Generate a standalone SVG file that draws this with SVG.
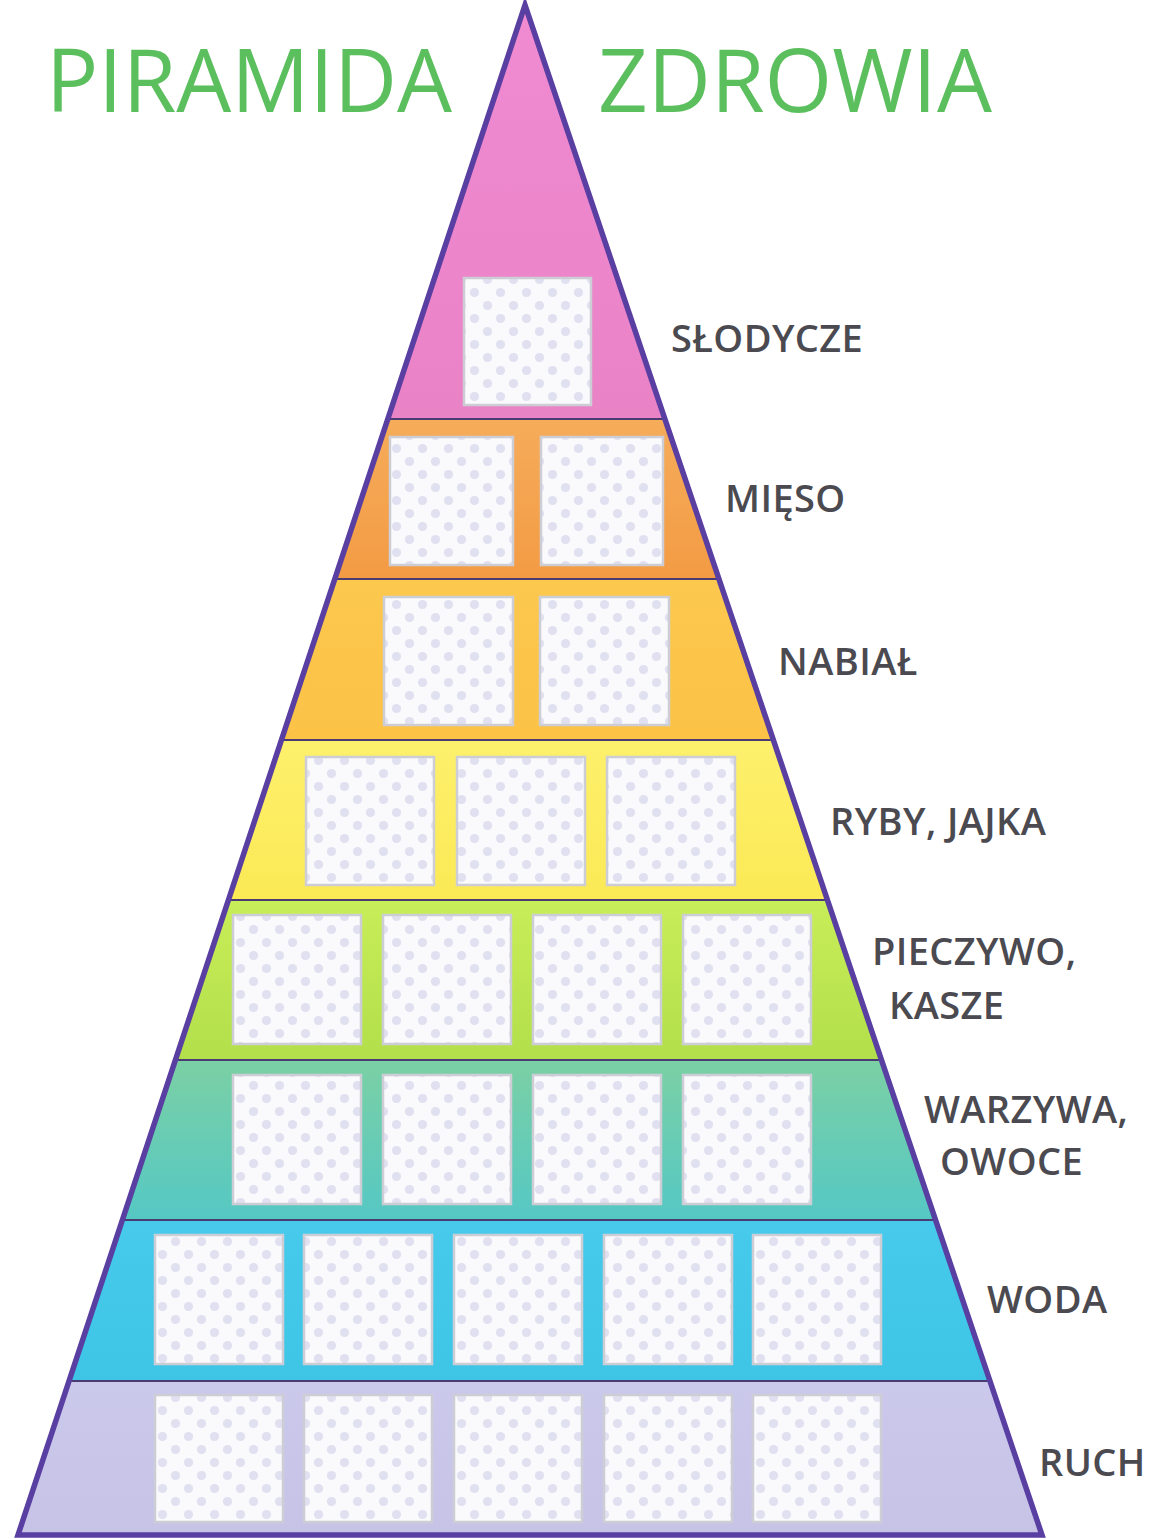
<svg xmlns="http://www.w3.org/2000/svg" width="1153" height="1539" viewBox="0 0 1153 1539">
<style>
.title{font-family:"Open Sans","Liberation Sans",sans-serif;font-size:87px;fill:#5cbf5e}
.lbl{font-family:"Open Sans","Liberation Sans",sans-serif;font-weight:600;font-size:38px;fill:#4b4a50;letter-spacing:0.4px}
.box{fill:url(#dots);stroke:#cdcdd5;stroke-width:2.5}
.sep{stroke:#4a3c72;stroke-width:2.2;fill:none}
</style>
<defs>
<pattern id="dots" patternUnits="userSpaceOnUse" width="26" height="26" x="0" y="0">
<rect width="26" height="26" fill="#fafafd"/>
<circle cx="6.5" cy="6.5" r="4.6" fill="#e0e0f0"/>
<circle cx="19.5" cy="19.5" r="4.6" fill="#e0e0f0"/>
</pattern>
<clipPath id="tri"><polygon points="525,5 18,1535 1042,1535"/></clipPath>
<linearGradient id="g1" x1="0" y1="0" x2="0" y2="1"><stop offset="0" stop-color="#f08bd2"/><stop offset="1" stop-color="#ea82c6"/></linearGradient>
<linearGradient id="g2" x1="0" y1="0" x2="0" y2="1"><stop offset="0" stop-color="#f6ac5a"/><stop offset="1" stop-color="#f39b44"/></linearGradient>
<linearGradient id="g3" x1="0" y1="0" x2="0" y2="1"><stop offset="0" stop-color="#fcc84e"/><stop offset="1" stop-color="#fbc246"/></linearGradient>
<linearGradient id="g4" x1="0" y1="0" x2="0" y2="1"><stop offset="0" stop-color="#fdf06c"/><stop offset="1" stop-color="#fbe955"/></linearGradient>
<linearGradient id="g5" x1="0" y1="0" x2="0" y2="1"><stop offset="0" stop-color="#c8ee58"/><stop offset="1" stop-color="#b2df4b"/></linearGradient>
<linearGradient id="g6" x1="0" y1="0" x2="0" y2="1"><stop offset="0" stop-color="#7bd0a4"/><stop offset="1" stop-color="#55c8c4"/></linearGradient>
<linearGradient id="g7" x1="0" y1="0" x2="0" y2="1"><stop offset="0" stop-color="#47caec"/><stop offset="1" stop-color="#3ec5e6"/></linearGradient>
<linearGradient id="g8" x1="0" y1="0" x2="0" y2="1"><stop offset="0" stop-color="#cbc9eb"/><stop offset="1" stop-color="#c6c3e6"/></linearGradient>
</defs>
<rect width="1153" height="1539" fill="#ffffff"/>
<g id="title">
<text class="title" x="46" y="112">PIRAMIDA</text>
<text class="title" x="598" y="112">ZDROWIA</text>
</g>
<g clip-path="url(#tri)">
<g id="band-slodycze">
<rect x="0" y="0" width="1153" height="419" fill="url(#g1)"/>
<rect class="box" x="464" y="278" width="127" height="127"/>
</g>
<g id="band-mieso">
<rect x="0" y="419" width="1153" height="160" fill="url(#g2)"/>
<rect class="box" x="390" y="437" width="123" height="128"/>
<rect class="box" x="541" y="437" width="122" height="128"/>
</g>
<g id="band-nabial">
<rect x="0" y="579" width="1153" height="161" fill="url(#g3)"/>
<rect class="box" x="384" y="597" width="129" height="128"/>
<rect class="box" x="540" y="597" width="129" height="128"/>
</g>
<g id="band-ryby">
<rect x="0" y="740" width="1153" height="160" fill="url(#g4)"/>
<rect class="box" x="306" y="757" width="128" height="128"/>
<rect class="box" x="457" y="757" width="128" height="128"/>
<rect class="box" x="607" y="757" width="128" height="128"/>
</g>
<g id="band-pieczywo">
<rect x="0" y="900" width="1153" height="160" fill="url(#g5)"/>
<rect class="box" x="233" y="915" width="128" height="129"/>
<rect class="box" x="383" y="915" width="128" height="129"/>
<rect class="box" x="533" y="915" width="128" height="129"/>
<rect class="box" x="683" y="915" width="128" height="129"/>
</g>
<g id="band-warzywa">
<rect x="0" y="1060" width="1153" height="160" fill="url(#g6)"/>
<rect class="box" x="233" y="1075" width="128" height="129"/>
<rect class="box" x="383" y="1075" width="128" height="129"/>
<rect class="box" x="533" y="1075" width="128" height="129"/>
<rect class="box" x="683" y="1075" width="128" height="129"/>
</g>
<g id="band-woda">
<rect x="0" y="1220" width="1153" height="161" fill="url(#g7)"/>
<rect class="box" x="155" y="1235" width="128" height="129"/>
<rect class="box" x="304" y="1235" width="128" height="129"/>
<rect class="box" x="454" y="1235" width="128" height="129"/>
<rect class="box" x="604" y="1235" width="128" height="129"/>
<rect class="box" x="753" y="1235" width="128" height="129"/>
</g>
<g id="band-ruch">
<rect x="0" y="1381" width="1153" height="158" fill="url(#g8)"/>
<rect class="box" x="155" y="1395" width="128" height="127"/>
<rect class="box" x="304" y="1395" width="128" height="127"/>
<rect class="box" x="454" y="1395" width="128" height="127"/>
<rect class="box" x="604" y="1395" width="128" height="127"/>
<rect class="box" x="753" y="1395" width="128" height="127"/>
</g>
<g id="separators">
<line class="sep" x1="0" y1="419" x2="1153" y2="419"/>
<line class="sep" x1="0" y1="579" x2="1153" y2="579"/>
<line class="sep" x1="0" y1="740" x2="1153" y2="740"/>
<line class="sep" x1="0" y1="900" x2="1153" y2="900"/>
<line class="sep" x1="0" y1="1060" x2="1153" y2="1060"/>
<line class="sep" x1="0" y1="1220" x2="1153" y2="1220"/>
<line class="sep" x1="0" y1="1381" x2="1153" y2="1381"/>
</g>
</g>
<g id="outline">
<polygon points="525,5 18,1535 1042,1535" fill="none" stroke="#5a3fa2" stroke-width="5.5" stroke-linejoin="miter"/>
</g>
<g id="labels">
<text class="lbl" x="671" y="352">SŁODYCZE</text>
<text class="lbl" x="725" y="512">MIĘSO</text>
<text class="lbl" x="778" y="675">NABIAŁ</text>
<text class="lbl" x="830" y="835">RYBY, JAJKA</text>
<text class="lbl" x="872" y="965">PIECZYWO,</text>
<text class="lbl" x="889" y="1019">KASZE</text>
<text class="lbl" x="924" y="1123">WARZYWA,</text>
<text class="lbl" x="940" y="1175">OWOCE</text>
<text class="lbl" x="987" y="1313">WODA</text>
<text class="lbl" x="1039" y="1476">RUCH</text>
</g>
</svg>
